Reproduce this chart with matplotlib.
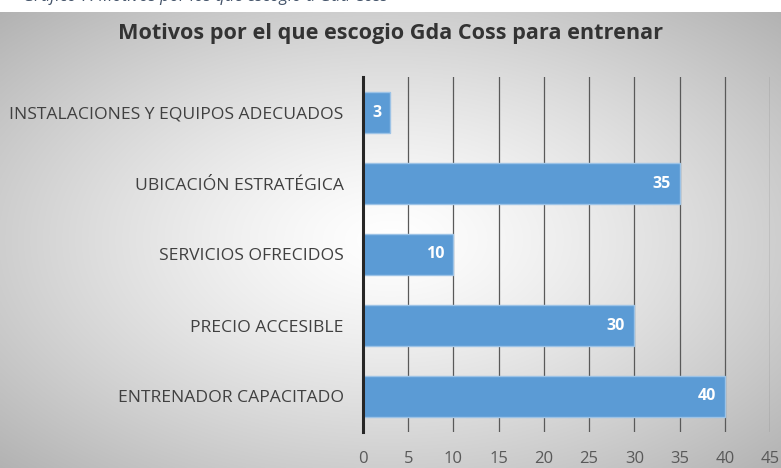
import numpy as np
import matplotlib

matplotlib.use("Agg")
import matplotlib.pyplot as plt

# data (bottom to top)
categories = [
    "ENTRENADOR CAPACITADO",
    "PRECIO ACCESIBLE",
    "SERVICIOS OFRECIDOS",
    "UBICACIÓN ESTRATÉGICA",
    "INSTALACIONES Y EQUIPOS ADECUADOS",
]
values = [40, 30, 10, 35, 3]
x_ticks = [0, 5, 10, 15, 20, 25, 30, 35, 40, 45]

title = "Motivos por el que escogio Gda Coss para entrenar"
caption = "Gráfico 7: Motivos por los que escogió a Gda Coss"

plt.rcParams["font.family"] = ["Open Sans", "DejaVu Sans"]

fig = plt.figure(figsize=(7.81, 4.68), dpi=100)

# radial gradient background (chart area)
bg = fig.add_axes([0, 0, 1, 456 / 468])
bg.set_axis_off()
yy, xx = np.mgrid[-1:1:300j, -1:1:500j]
r = np.sqrt(xx ** 2 + yy ** 2) / np.sqrt(2)
shade = 1.0 - 0.30 * np.clip(r, 0, 1) ** 1.3
img = np.dstack([shade, shade, shade])
bg.imshow(img, aspect="auto", extent=[0, 1, 0, 1], interpolation="bilinear")
bg.set_xlim(0, 1)
bg.set_ylim(0, 1)

# cut off caption at the very top
fig.text(0.03, 1.0 + 3 / 468, caption, ha="left", va="center", fontsize=12,
         style="italic", color="#44546A")

ax = fig.add_axes([363 / 781, 36 / 468, (770 - 363) / 781, (432 - 77) / 468])
ax.patch.set_alpha(0)

y = np.arange(len(categories))
bars = ax.barh(y, values, height=0.57, color="#5B9BD5",
               edgecolor="#9DC3E6", linewidth=1.0, zorder=3)

for yi, v in zip(y, values):
    ax.text(v - 1.0, yi, str(v), ha="right", va="center", color="white",
            fontsize=11.5, fontweight="bold", zorder=4)

ax.set_xlim(0, 45)
ax.set_ylim(-0.5, len(categories) - 0.5)
ax.set_xticks(x_ticks)
ax.set_xticklabels([str(t) for t in x_ticks], fontsize=12, color="#595959")
ax.set_yticks(y)
ax.set_yticklabels(categories, fontsize=12.6, color="#404040")
ax.tick_params(axis="x", length=0, pad=14)
ax.tick_params(axis="y", length=0, pad=14)

ax.grid(axis="x", color="#595959", linewidth=0.9, zorder=1)
for s in ["top", "right", "bottom"]:
    ax.spines[s].set_visible(False)
ax.spines["left"].set_color("#262626")
ax.spines["left"].set_linewidth(2.2)
ax.spines["left"].set_zorder(5)

fig.text(0.5, 1 - 34 / 468, title, ha="center", va="center", fontsize=15.6,
         fontweight="bold", color="#333333")

fig.savefig("out.png", dpi=100)
